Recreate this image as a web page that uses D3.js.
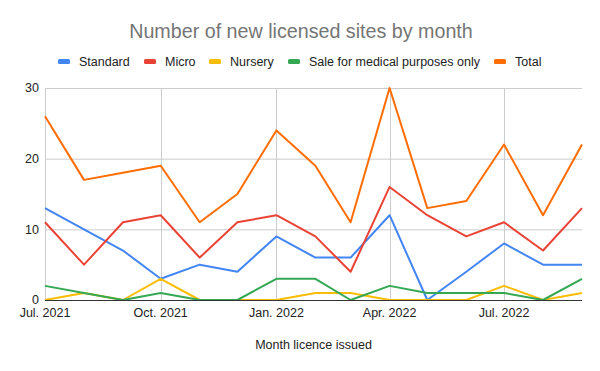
<!DOCTYPE html>
<html>
<head>
<meta charset="utf-8">
<title>Number of new licensed sites by month</title>
<style>
  body { margin: 0; background: #fff; }
  svg text { font-family: "Liberation Sans", Arial, sans-serif; }
</style>
</head>
<body>
<svg width="600" height="371"></svg>
<script src="https://d3js.org/d3.v7.min.js"></script>
<script>

// months, Jul 2021 .. Sep 2022
const months = ["2021-07","2021-08","2021-09","2021-10","2021-11","2021-12",
  "2022-01","2022-02","2022-03","2022-04","2022-05","2022-06","2022-07","2022-08","2022-09"]

const standard = [13, 10, 7, 3, 5, 4, 9, 6, 6, 12, 0, 4, 8, 5, 5]
const micro    = [11, 5, 11, 12, 6, 11, 12, 9, 4, 16, 12, 9, 11, 7, 13]
const nursery  = [0, 1, 0, 3, 0, 0, 0, 1, 1, 0, 0, 0, 2, 0, 1]
const medical  = [2, 1, 0, 1, 0, 0, 3, 3, 0, 2, 1, 1, 1, 0, 3]
const total    = [26, 17, 18, 19, 11, 15, 24, 19, 11, 30, 13, 14, 22, 12, 22]

const seriesNames = ["Standard", "Micro", "Nursery", "Sale for medical purposes only", "Total"]
const seriesValues = [standard, micro, nursery, medical, total]
const colors = ["#4285f4", "#ea4335", "#fbbc04", "#34a853", "#ff6d01"]

const yTicks = [0, 10, 20, 30]
const xTickMonths = ["2021-07","2021-10","2022-01","2022-04","2022-07"]
const xTickLabels = ["Jul. 2021", "Oct. 2021", "Jan. 2022", "Apr. 2022", "Jul. 2022"]

const parse = d3.timeParse("%Y-%m")
const dates = months.map(parse)

const svg = d3.select("svg")
const margin = {left: 45, right: 18, top: 88, bottom: 71}
const W = 600, H = 371

const x = d3.scaleTime()
    .domain(d3.extent(dates))
    .range([margin.left, W - margin.right])
const y = d3.scaleLinear()
    .domain([0, 30])
    .range([H - margin.bottom, margin.top])

// title
svg.append("text")
    .attr("x", 301).attr("y", 38)
    .attr("text-anchor", "middle")
    .attr("font-size", 19.7)
    .attr("fill", "#757575")
    .text("Number of new licensed sites by month")

// legend
const legendX = [58, 144, 209, 288, 494]
const legend = svg.append("g")
  .selectAll("g")
  .data(seriesNames)
  .join("g")
    .attr("transform", (d, i) => `translate(${legendX[i]},61.5)`)
legend.append("rect")
    .attr("x", 0).attr("y", -2.5)
    .attr("width", 12).attr("height", 5)
    .attr("rx", 1.5)
    .attr("fill", (d, i) => colors[i])
legend.append("text")
    .attr("x", 21).attr("dy", "0.35em")
    .attr("font-size", 12.5)
    .attr("fill", "#222")
    .text(d => d)

// grid
svg.append("g")
    .attr("stroke", "#cccccc")
  .selectAll("line.h")
  .data(yTicks.filter(d => d > 0))
  .join("line")
    .attr("x1", margin.left).attr("x2", W - margin.right)
    .attr("y1", d => y(d) + 0.5).attr("y2", d => y(d) + 0.5)
svg.append("g")
    .attr("stroke", "#cccccc")
  .selectAll("line")
  .data(xTickMonths.map(parse))
  .join("line")
    .attr("x1", d => Math.round(x(d)) + 0.5).attr("x2", d => Math.round(x(d)) + 0.5)
    .attr("y1", margin.top).attr("y2", H - margin.bottom)

// y labels
svg.append("g")
  .selectAll("text")
  .data(yTicks)
  .join("text")
    .attr("x", 39).attr("y", d => y(d))
    .attr("dy", "0.35em")
    .attr("text-anchor", "end")
    .attr("font-size", 12.5)
    .attr("fill", "#222")
    .text(d => d)

// x labels, centred on their month
svg.append("g")
  .selectAll("text")
  .data(xTickMonths)
  .join("text")
    .attr("x", d => x(parse(d))).attr("y", 317)
    .attr("text-anchor", "middle")
    .attr("font-size", 12.5)
    .attr("fill", "#222")
    .text((d, i) => xTickLabels[i])

// axis title
svg.append("text")
    .attr("x", (margin.left + W - margin.right) / 2).attr("y", 349)
    .attr("text-anchor", "middle")
    .attr("font-size", 12.5)
    .attr("fill", "#222")
    .text("Month licence issued")

// lines
const line = d3.line()
    .x((d, i) => x(dates[i]))
    .y(d => y(d))

svg.append("g")
    .attr("fill", "none")
    .attr("stroke-width", 2)
    .attr("stroke-linejoin", "round")
  .selectAll("path")
  .data(seriesValues)
  .join("path")
    .attr("stroke", (d, i) => colors[i])
    .attr("d", line)

// baseline
svg.append("line")
    .attr("x1", margin.left).attr("x2", W - margin.right)
    .attr("y1", y(0) + 0.5).attr("y2", y(0) + 0.5)
    .attr("stroke", "#333")

</script>
</body>
</html>
